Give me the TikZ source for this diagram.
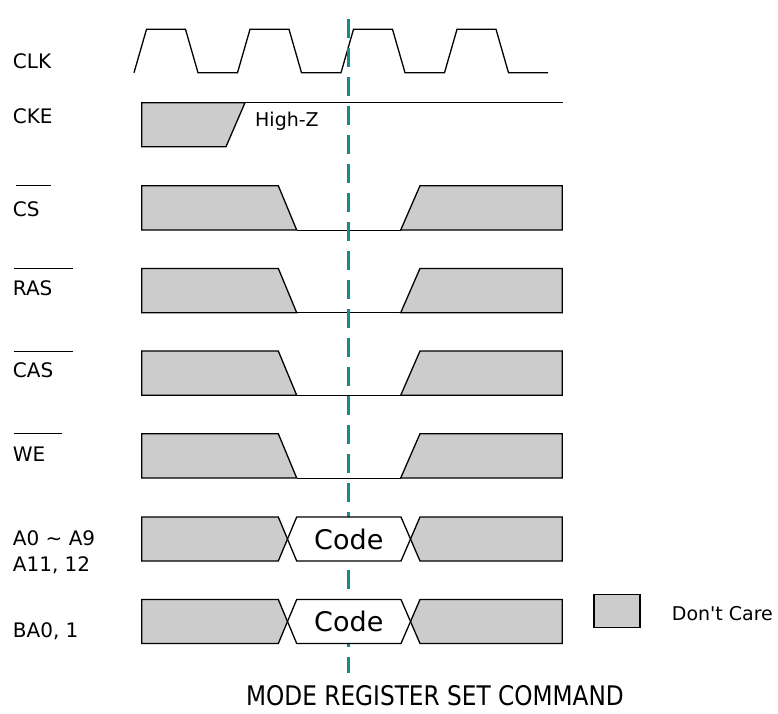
\documentclass[tikz,border=0pt]{standalone}
\usepackage{fontspec}
\usepackage{graphicx}
\setmainfont{DejaVu Sans}
\definecolor{markteal}{RGB}{20,140,140}
\tikzset{
  care/.style={draw, fill=gray!40, line width=1.3pt},
  wave/.style={draw, line width=1.3pt},
  lowline/.style={draw, line width=1pt},
  lbl/.style={anchor=base west, inner sep=0pt, font=\fontsize{20}{24}\selectfont},
  note/.style={anchor=base west, inner sep=0pt, font=\fontsize{19}{23}\selectfont},
  codebox/.style={draw, fill=white, line width=1.3pt},
}
\begin{document}
\begin{tikzpicture}[x=1pt,y=-1pt]
\useasboundingbox (0,0) rectangle (778,713);
\node[lbl] (1) at (12.7,68.3) {CLK};
\node[lbl] (2) at (12.7,123.3) {CKE};
\node[lbl] (3) at (12.7,216.7) {CS};
\node[lbl] (4) at (12.7,295) {RAS};
\node[lbl] (5) at (12.7,377.3) {CAS};
\node[lbl] (6) at (12.7,461.7) {WE};
\node[lbl] (7) at (12.7,545) {A0 \textasciitilde{} A9};
\node[lbl] (8) at (12.7,571.7) {A11, 12};
\node[lbl] (9) at (12.7,637) {BA0, 1};
\draw[lowline] (16,185.7) -- (51,185.7);
\draw[lowline] (14,268.4) -- (73,268.4);
\draw[lowline] (14,351) -- (73,351);
\draw[lowline] (14,433.7) -- (62,433.7);
\draw[wave] (134,72.7) -- (146.5,29.3) -- (185.5,29.3) -- (198,72.7) -- (237.5,72.7)
  -- (250,29.3) -- (289,29.3) -- (301.5,72.7) -- (341,72.7)
  -- (353.5,29.3) -- (392.5,29.3) -- (405,72.7) -- (444.5,72.7)
  -- (457,29.3) -- (496,29.3) -- (508.5,72.7) -- (548,72.7);
\draw[lowline] (141.7,102.7) -- (563,102.7);
\draw[care] (141.7,102.7) -- (245,102.7) -- (226,146.7) -- (141.7,146.7) -- cycle;
\node[note] (10) at (255,126.7) {High-Z};
\draw[care] (141.7,185.7) -- (278.3,185.7) -- (296.7,230) -- (141.7,230) -- cycle;
\draw[lowline] (296.7,230) -- (400.7,230);
\draw[care] (400.7,230) -- (420,185.7) -- (562.3,185.7) -- (562.3,230) -- cycle;
\draw[care] (141.7,268.4) -- (278.3,268.4) -- (296.7,312.7) -- (141.7,312.7) -- cycle;
\draw[lowline] (296.7,312.7) -- (400.7,312.7);
\draw[care] (400.7,312.7) -- (420,268.4) -- (562.3,268.4) -- (562.3,312.7) -- cycle;
\draw[care] (141.7,351) -- (278.3,351) -- (296.7,395.3) -- (141.7,395.3) -- cycle;
\draw[lowline] (296.7,395.3) -- (400.7,395.3);
\draw[care] (400.7,395.3) -- (420,351) -- (562.3,351) -- (562.3,395.3) -- cycle;
\draw[care] (141.7,433.7) -- (278.3,433.7) -- (296.7,478) -- (141.7,478) -- cycle;
\draw[lowline] (296.7,478) -- (400.7,478);
\draw[care] (400.7,478) -- (420,433.7) -- (562.3,433.7) -- (562.3,478) -- cycle;
\draw[care] (141.7,517) -- (278.3,517) -- (287.5,539) -- (278.3,561) -- (141.7,561) -- cycle;
\draw[care] (410.5,539) -- (420,517) -- (562.3,517) -- (562.3,561) -- (420,561) -- cycle;
\draw[care] (141.7,599.5) -- (278.3,599.5) -- (287.5,621.5) -- (278.3,643.5) -- (141.7,643.5) -- cycle;
\draw[care] (410.5,621.5) -- (420,599.5) -- (562.3,599.5) -- (562.3,643.5) -- (420,643.5) -- cycle;
\draw[markteal, line width=2.5pt, dash pattern=on 19pt off 10pt] (348.3,19) -- (348.3,673);
\draw[codebox] (287.5,539) -- (296.7,517) -- (401,517) -- (410.5,539) -- (401,561) -- (296.7,561) -- cycle;
\draw[codebox] (287.5,621.5) -- (296.7,599.5) -- (401,599.5) -- (410.5,621.5) -- (401,643.5) -- (296.7,643.5) -- cycle;
\node[font=\fontsize{27}{32}\selectfont, inner sep=0pt] (11) at (348.8,539) {Code};
\node[font=\fontsize{27}{32}\selectfont, inner sep=0pt] (12) at (348.8,621.5) {Code};
\draw[care] (594,594.3) rectangle (640,627.7);
\node[note] (13) at (671.7,620.7) {Don\textquotesingle t Care};
\node[anchor=base, inner sep=0pt, font=\fontsize{27}{32}\selectfont] (14) at (435,705) {\scalebox{0.86}[1]{MODE REGISTER SET COMMAND}};
\end{tikzpicture}
\end{document}
